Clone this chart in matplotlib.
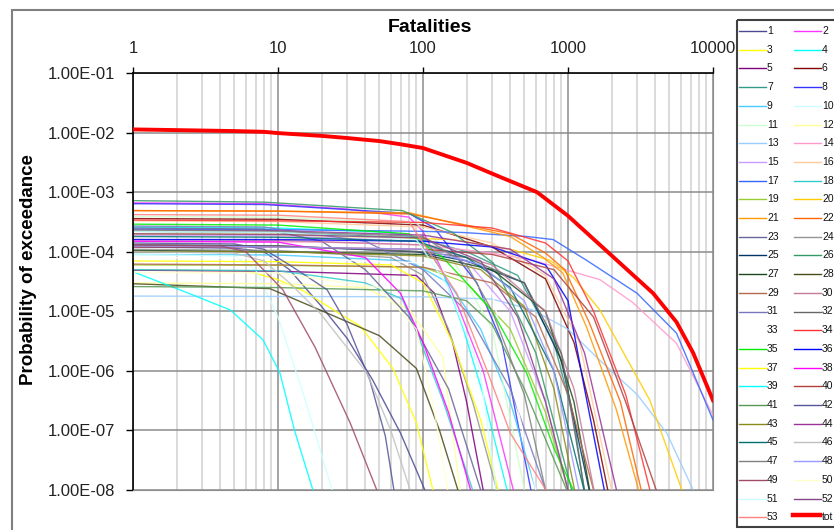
import numpy as np
import matplotlib
matplotlib.use('Agg')
import matplotlib.pyplot as plt
from matplotlib.ticker import FixedLocator, NullLocator, LogLocator, FuncFormatter
from matplotlib.patches import Rectangle
from matplotlib.lines import Line2D

plt.rcParams['font.family'] = ['Liberation Sans', 'DejaVu Sans']

# ---- data ----
labels = [str(i) for i in range(1, 54)]

curve_x = [
    [1, 5, 8, 12, 20, 30, 45, 70, 103],                       # 1
    [1, 8, 30, 80, 100, 130, 180, 260, 420],                  # 2
    [1, 6, 10, 15, 25, 37, 62, 90, 117],                      # 3
    [1, 10, 60, 100, 140, 190, 260, 380],                     # 4
    [1, 10, 90, 120, 160, 200, 260],                          # 5
    [1, 10, 100, 300, 700, 1100, 1500, 1880],                 # 6
    [1, 10, 90, 200, 450, 800, 1100, 1290],                   # 7
    [1, 8, 80, 120, 160, 235, 350, 555],                      # 8
    [1, 10, 80, 150, 250, 400, 600],                          # 9
    [1, 5, 7, 10, 15, 23.6],                                  # 10
    [1, 10, 90, 150, 300, 500],                               # 11
    [1, 10, 40, 81, 137, 180],                                # 12
    [1, 100, 300, 570, 1000, 1660, 3000, 4800, 7300],         # 13
    [1, 20, 100, 300, 570, 1660, 2800, 5600, 10000],          # 14
    [1, 10, 90, 200, 400, 700, 1000],                         # 15
    [1, 10, 100, 300, 700, 1200, 2000],                       # 16
    [1, 10, 100, 190, 520, 790, 1340, 3000, 5600, 10000],     # 17
    [1, 10, 40, 72, 91, 137, 220],                            # 18
    [1, 10, 100, 200, 400, 700, 1000],                        # 19
    [1, 10, 160, 400, 750, 1090, 1660, 3670, 6100],           # 20
    [1, 10, 81, 400, 670, 920, 1340, 2160, 3070],             # 21
    [1, 10, 81, 400, 700, 950, 1400, 2300, 3200],             # 22
    [1, 8, 20, 40, 80, 150, 250],                             # 23
    [1, 10, 60, 100, 150, 220, 323],                          # 24
    [1, 10, 90, 200, 500, 900, 1400],                         # 25
    [1, 8, 72, 160, 305, 600, 1060],                          # 26
    [1, 10, 100, 300, 700, 1100, 1410],                       # 27
    [1, 8.8, 19.5, 50, 90, 130, 174],                         # 28
    [1, 10, 100, 300, 600, 1000, 1500],                       # 29
    [1, 10, 100, 300, 700, 1100, 1510],                       # 30
    [1, 8, 40, 100, 200, 400, 700],                           # 31
    [1, 10, 100, 200, 500, 900, 1300],                        # 32
    [1, 10, 100, 300, 600],                                   # 33
    [1, 10, 100, 300, 700, 1000, 1500, 2500, 3670],           # 34
    [1, 10, 80, 137, 200, 300, 520, 800, 1090],               # 35
    [1, 10, 100, 300, 700, 1000, 1300, 1780],                 # 36
    [1, 10, 60, 100, 160, 250, 330],                          # 37
    [1, 10, 40, 70, 100, 150, 213],                           # 38
    [1, 2.1, 4.7, 7.9, 10.3, 13, 17.4],                       # 39
    [1, 10, 100, 300, 800, 1500, 2500, 4060],                 # 40
    [1, 10, 100, 200, 300, 500, 980],                         # 41
    [1, 5, 8, 12, 21.8, 30, 43, 55, 63],                      # 42
    [1, 10, 100, 250, 500, 800, 1110],                        # 43
    [1, 10, 100, 400, 800, 1300, 2160],                       # 44
    [1, 10, 90, 200, 400, 800, 1290],                         # 45
    [1, 5, 8, 12, 19.5, 41, 60, 81.5],                        # 46
    [1, 10, 100, 200, 300, 500, 700],                         # 47
    [1, 10, 100, 250, 500, 800, 1190],                        # 48
    [1, 4, 6, 10.8, 18, 31.4, 48],                            # 49
    [1, 10, 50, 90, 120, 148],                                # 50
    [1, 10, 90, 150, 247, 320],                               # 51
    [1, 10, 100, 250, 450, 700, 1000],                        # 52
    [1, 10, 80, 171, 277, 400, 705],                          # 53
]

curve_y = [
    [1.2e-4, 1.15e-4, 1.0e-4, 5e-5, 1.2e-5, 3.5e-6, 7e-7, 9e-8, 1e-8],
    [6.6e-4, 6.4e-4, 5.2e-4, 3.8e-4, 2.2e-4, 6e-5, 1e-5, 1e-6, 1e-8],
    [4.9e-5, 4.8e-5, 3.4e-5, 2.2e-5, 1e-5, 5.6e-6, 1.1e-6, 1.35e-7, 1e-8],
    [2.6e-4, 2.5e-4, 2.1e-4, 1.6e-4, 4e-5, 5e-6, 4e-7, 1e-8],
    [4.9e-5, 4.7e-5, 4e-5, 2e-5, 3e-6, 3e-7, 1e-8],
    [3.6e-4, 3.5e-4, 2.8e-4, 1.2e-4, 3.5e-5, 3e-6, 1.5e-7, 1e-8],
    [2.2e-4, 2.1e-4, 1.7e-4, 1.0e-4, 4e-5, 3e-6, 1.5e-7, 1e-8],
    [6.4e-4, 6.2e-4, 4.4e-4, 2.5e-4, 1e-4, 3e-5, 3e-6, 1e-8],
    [9e-5, 8.8e-5, 7e-5, 3e-5, 5e-6, 3e-7, 1e-8],
    [9e-5, 8.5e-5, 5e-5, 8e-6, 4e-7, 1e-8],
    [3.9e-4, 3.8e-4, 3e-4, 1e-4, 5e-6, 1e-8],
    [3e-5, 2.9e-5, 2.5e-5, 1.05e-5, 1.7e-6, 1e-8],
    [1.8e-5, 1.75e-5, 1.6e-5, 1.05e-5, 5e-6, 1.5e-6, 4e-7, 9e-8, 1e-8],
    [1.5e-4, 1.45e-4, 1.3e-4, 9.5e-5, 7.2e-5, 3.4e-5, 1.4e-5, 2.9e-6, 1.8e-7],
    [1.9e-4, 1.85e-4, 1.5e-4, 7e-5, 1e-5, 3e-7, 1e-8],
    [3.3e-4, 3.2e-4, 2.6e-4, 1.4e-4, 4e-5, 3e-6, 1e-8],
    [2.4e-4, 2.35e-4, 2.2e-4, 2.1e-4, 1.8e-4, 1.6e-4, 7.2e-5, 2e-5, 4.3e-6, 1.5e-7],
    [5e-5, 4.8e-5, 3e-5, 1.6e-5, 4.4e-6, 3.2e-7, 1e-8],
    [6e-5, 5.9e-5, 5.5e-5, 3e-5, 5e-6, 2e-7, 1e-8],
    [2.0e-4, 1.95e-4, 1.6e-4, 1.1e-4, 7.2e-5, 3.7e-5, 1.05e-5, 3.2e-7, 1e-8],
    [4.9e-4, 4.8e-4, 4.5e-4, 1.8e-4, 8.1e-5, 4.4e-5, 5.5e-6, 2.2e-7, 1e-8],
    [4.9e-4, 4.8e-4, 4.3e-4, 2e-4, 9.5e-5, 5e-5, 6.5e-6, 3e-7, 1e-8],
    [2.5e-4, 2.4e-4, 1.5e-4, 5e-5, 8e-6, 5e-7, 1e-8],
    [1.1e-4, 1.05e-4, 8e-5, 4e-5, 5e-6, 3e-7, 1e-8],
    [1.3e-4, 1.25e-4, 1e-4, 7e-5, 3e-5, 1.5e-6, 1e-8],
    [7.2e-4, 6.8e-4, 4.9e-4, 2.1e-4, 6.5e-5, 2e-6, 1e-8],
    [1.05e-4, 1.0e-4, 9e-5, 5e-5, 1e-5, 3e-7, 1e-8],
    [2.9e-5, 2.4e-5, 1.05e-5, 3.9e-6, 1.1e-6, 1e-7, 1e-8],
    [6.2e-5, 6e-5, 5.5e-5, 3e-5, 8e-6, 4e-7, 1e-8],
    [1.6e-4, 1.55e-4, 1.3e-4, 6e-5, 1e-5, 5e-7, 1e-8],
    [2.7e-4, 2.6e-4, 1.5e-4, 5e-5, 1e-5, 5e-7, 1e-8],
    [1.3e-4, 1.25e-4, 1.0e-4, 8e-5, 3e-5, 2e-6, 1e-8],
    [8e-5, 7.8e-5, 6.5e-5, 2e-5, 1e-8],
    [3.4e-4, 3.3e-4, 3.1e-4, 2.5e-4, 1.4e-4, 7e-5, 1e-5, 4e-7, 1e-8],
    [2.9e-4, 2.8e-4, 2e-4, 8e-5, 3e-5, 1e-5, 9e-7, 5e-8, 1e-8],
    [1.6e-4, 1.6e-4, 1.5e-4, 1.2e-4, 6e-5, 1.5e-5, 5e-7, 1e-8],
    [7e-5, 6.8e-5, 6e-5, 3e-5, 3e-6, 1.5e-7, 1e-8],
    [1.5e-4, 1.45e-4, 8e-5, 2e-5, 3e-6, 2e-7, 1e-8],
    [4.6e-5, 2.3e-5, 1.05e-5, 3.3e-6, 9.3e-7, 1e-7, 1e-8],
    [1.2e-4, 1.2e-4, 1.1e-4, 9e-5, 5e-5, 8e-6, 3e-7, 1e-8],
    [2.6e-5, 2.5e-5, 2.2e-5, 1.5e-5, 6e-6, 5e-7, 1e-8],
    [1.4e-4, 1.35e-4, 1.1e-4, 6e-5, 2.3e-5, 6e-6, 7e-7, 8e-8, 1e-8],
    [1.0e-4, 1.0e-4, 8.5e-5, 5e-5, 1.2e-5, 5e-7, 1e-8],
    [2.3e-4, 2.25e-4, 1.9e-4, 1.1e-4, 3.5e-5, 2e-6, 1e-8],
    [1.8e-4, 1.75e-4, 1.5e-4, 8e-5, 2.5e-5, 1e-6, 1e-8],
    [1.0e-4, 9.5e-5, 7e-5, 3e-5, 9.3e-6, 9.3e-7, 1e-7, 1e-8],
    [2.3e-4, 2.2e-4, 1.8e-4, 6e-5, 1e-5, 4e-7, 1e-8],
    [1.25e-4, 1.2e-4, 1.1e-4, 6e-5, 1.5e-5, 1e-6, 1e-8],
    [1.3e-4, 1.25e-4, 1.0e-4, 2.3e-5, 2.5e-6, 1.35e-7, 1e-8],
    [4.5e-5, 4.4e-5, 2.5e-5, 5e-6, 2e-7, 1e-8],
    [2.2e-4, 2.1e-4, 1.6e-4, 2.5e-5, 1.05e-6, 1e-8],
    [2.0e-4, 1.95e-4, 1.7e-4, 7e-5, 8e-6, 3e-7, 1e-8],
    [4.2e-4, 4.1e-4, 3.2e-4, 2e-5, 1e-6, 9e-8, 1e-8],
]

total_x = [1, 2, 5, 8, 10, 20, 30, 50, 69, 100, 200, 340, 611, 1000, 2170, 3870, 5600, 7300, 10000]
total_y = [1.13e-2, 1.1e-2, 1.06e-2, 1.03e-2, 9.8e-3, 8.8e-3, 8.1e-3, 7.2e-3, 6.4e-3, 5.5e-3,
           3.1e-3, 1.8e-3, 1.0e-3, 4.0e-4, 7.2e-5, 2e-5, 6.6e-6, 2e-6, 3.2e-7]

x_ticks = [1, 10, 100, 1000, 10000]
y_ticks = [1e-1, 1e-2, 1e-3, 1e-4, 1e-5, 1e-6, 1e-7, 1e-8]

# Excel style series colours
colors = [
    '#4a4a96', '#ff33ff', '#ffff00', '#00ffff', '#800080', '#800000', '#339988', '#3333ff',
    '#44ccff', '#ccffff', '#ccffcc', '#ffff99', '#99ccff', '#ff99cc', '#cc99ff', '#ffcc99',
    '#3366ff', '#33cccc', '#99cc33', '#ffcc00', '#ff9900', '#ff6600', '#666699', '#969696',
    '#003366', '#339966', '#1c4a1c', '#4a4a1a', '#b36a4a', '#c47a9a', '#7777c0', '#666666',
    '#ffffff', '#ff3333', '#00ee00', '#0000ff', '#ffff00', '#ff00ff', '#00ffff', '#b04040',
    '#559955', '#555599', '#8a8a1a', '#993399', '#007070', '#c0c0c0', '#808080', '#9999ff',
    '#a04a6a', '#ffffcc', '#ccffff', '#884488', '#ff8080',
]

W, H = 834, 530
fig = plt.figure(figsize=(W / 100, H / 100), dpi=100)
fig.patch.set_facecolor('white')

# outer chart border
fig.patches.append(Rectangle((12 / W, -0.05), 1.0, 1 - 10 / H + 0.05, transform=fig.transFigure,
                             fill=False, edgecolor='#808080', linewidth=1.5))

left, right, top, bottom = 133 / W, 713 / W, 1 - 73 / H, 1 - 490 / H
ax = fig.add_axes([left, bottom, right - left, top - bottom])
ax.set_xscale('log')
ax.set_yscale('log')
ax.set_xlim(1, 10000)
ax.set_ylim(1e-8, 1e-1)

for i in range(len(labels)):
    ax.plot(curve_x[i], curve_y[i], color=colors[i], lw=1.0, alpha=0.85,
            solid_joinstyle='round', zorder=2)
ax.plot(total_x, total_y, color='#ff0000', lw=2.8, zorder=3, solid_joinstyle='round')

# axes / grid
ax.xaxis.tick_top()
ax.xaxis.set_major_locator(FixedLocator(x_ticks))
ax.xaxis.set_major_formatter(FuncFormatter(lambda v, p: f'{v:g}'))
ax.xaxis.set_minor_locator(LogLocator(base=10, subs=range(2, 10)))
ax.xaxis.set_minor_formatter(FuncFormatter(lambda v, p: ''))
ax.yaxis.set_major_locator(FixedLocator(y_ticks))
ax.yaxis.set_major_formatter(FuncFormatter(lambda v, p: f'{v:.2E}'))
ax.yaxis.set_minor_locator(NullLocator())

ax.grid(True, which='major', axis='both', color='#8c8c8c', lw=1.1, zorder=0)
ax.grid(True, which='minor', axis='x', color='#d4d4d4', lw=1.2, zorder=0)
ax.set_axisbelow(True)

ax.tick_params(axis='x', which='major', top=True, bottom=False, length=4, width=1,
               direction='out', pad=8, labelsize=12, colors='black')
ax.tick_params(axis='x', which='minor', top=False, bottom=False, length=0)
ax.tick_params(axis='y', which='major', left=True, length=5, width=1, direction='out',
               pad=8, labelsize=12, colors='black')
for lab in ax.get_xticklabels() + ax.get_yticklabels():
    lab.set_color('#222222')

ax.spines['left'].set_color('black')
ax.spines['top'].set_color('black')
ax.spines['left'].set_linewidth(1.2)
ax.spines['top'].set_linewidth(1.2)
ax.spines['right'].set_color('#8c8c8c')
ax.spines['bottom'].set_color('#8c8c8c')

fig.text(430 / W, 1 - 27 / H, 'Fatalities', ha='center', va='center',
         fontsize=14, fontweight='bold')
fig.text(29 / W, 1 - 270 / H, 'Probability of exceedance', ha='center', va='center',
         rotation=90, fontsize=13.5, fontweight='bold')

# legend (drawn in pixel coordinates so it sits like the original)
lax = fig.add_axes([736 / W, 0, (W - 736) / W, 1])
lax.set_xlim(736, W)
lax.set_ylim(H, 0)
lax.axis('off')
lax.add_patch(Rectangle((737, 20), 120, 507, fill=False, edgecolor='#404040', lw=1.5,
                        clip_on=False))
names = labels + ['tot']
for k, name in enumerate(names):
    row, col = divmod(k, 2)
    yy = 31 + row * 18.7
    x0 = 739 if col == 0 else 794
    if name == 'tot':
        lax.add_line(Line2D([x0 - 1, x0 + 26], [yy - 2, yy - 2], color='#ff0000', lw=3.2))
    else:
        lax.add_line(Line2D([x0, x0 + 27], [yy, yy], color=colors[k], lw=1.0))
    lax.text(x0 + 28, yy, name, fontsize=7.5, va='center', ha='left', color='#111111')

fig.savefig('out.png', dpi=100)
